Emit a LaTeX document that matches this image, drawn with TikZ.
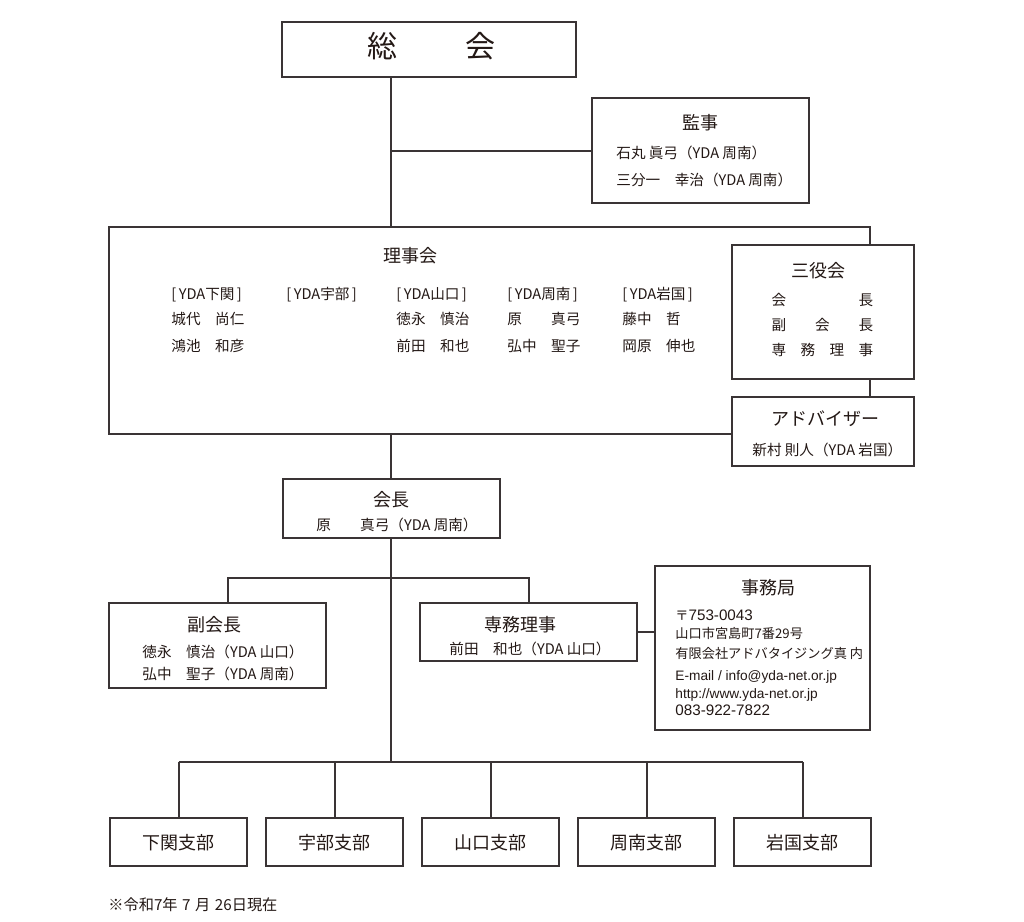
\documentclass[tikz,border=0pt]{standalone}
\usepackage{fontspec}
\setmainfont{Noto Sans CJK JP}
\newfontfamily\latf{Liberation Sans}
\definecolor{linec}{HTML}{3A3435}
\definecolor{txtc}{HTML}{231815}
\begin{document}
\begin{tikzpicture}[x=0.5pt,y=-0.5pt,
  box/.style={draw=linec, line width=1pt, inner sep=0pt, fill=white},
  conn/.style={draw=linec, line width=1pt},
  tx/.style={inner sep=0pt, text=txtc, text height=0.88em, text depth=0.12em},
  body/.style={tx, font=\fontsize{7.3}{8}\selectfont},
  small/.style={tx, font=\fontsize{6.6}{7}\selectfont},
  latl/.style={tx, font=\fontsize{6.85}{7}\latf},
  digl/.style={tx, font=\fontsize{7.6}{8}\latf},
  foot/.style={tx, font=\fontsize{7.6}{8}\selectfont},
  ttl/.style={tx, font=\fontsize{9}{10}\selectfont},
  big/.style={tx, font=\fontsize{15}{16}\selectfont},
  lw/.style={anchor=west}]
\useasboundingbox[fill=white] (0,0) rectangle (1024,922);
% boxes
\node[box, minimum width=147pt, minimum height=27.5pt] (sokai) at (429,49.5) {};
\node[box, minimum width=108.5pt, minimum height=52.5pt] (kanji) at (700.5,150.5) {};
\node[box, minimum width=91pt, minimum height=67pt] (sanyaku) at (823,312) {};
\node[box, minimum width=91pt, minimum height=34.5pt] (adviser) at (823,431.5) {};
\node[box, minimum width=108.5pt, minimum height=29.5pt] (kaicho) at (391.5,508.5) {};
\node[box, minimum width=108.5pt, minimum height=42.5pt] (fuku) at (217.5,645.5) {};
\node[box, minimum width=108.5pt, minimum height=29pt] (senmu) at (528.5,632) {};
\node[box, minimum width=107.5pt, minimum height=82pt] (jimu) at (762.5,648) {};
\foreach \n/\cx in {b1/178.5,b2/334.5,b3/490.5,b4/646.5,b5/802.5}
  \node[box, minimum width=68.5pt, minimum height=24pt] (\n) at (\cx,842) {};
% coordinates
\coordinate (trunk) at (391,0);
\coordinate (rjtl) at (109,226.5);
\coordinate (rjbl) at (109,433.5);
\coordinate (rjr) at (870,226.5);
\coordinate (rjtop) at (391,226.5);
\coordinate (rjbot) at (391,433.5);
\coordinate (fk) at (228,578);
\coordinate (bar) at (391,762);
% connectors
\draw[conn] (sokai.south -| trunk) -- (rjtop);
\draw[conn] (kanji.west -| trunk) -- (kanji.west);
\draw[conn] (adviser.west |- rjbl) -- (rjbl) -- (rjtl) -- (rjr) -- (sanyaku.north -| rjr);
\draw[conn] (sanyaku.south -| rjr) -- (adviser.north -| rjr);
\draw[conn] (rjbot) -- (kaicho.north -| trunk);
\draw[conn] (kaicho.south -| trunk) -- (bar);
\draw[conn] (fuku.north -| fk) -- (fk) -- (senmu.north |- fk) -- (senmu.north);
\draw[conn] (senmu.east) -- (jimu.west |- senmu.east);
\draw[conn] (b1.north |- bar) -- (b5.north |- bar);
\foreach \n in {b1,b2,b3,b4,b5} \draw[conn] (\n.north) -- (\n.north |- bar);
% texts: sokai
\node[big] (t_so) at (382,50) {総};
\node[big] (t_kai) at (480,50) {会};
% kanji
\node[ttl] (t_kanji) at (700,122) {監事};
\node[body,lw] (k1) at (616,151) {石丸 眞弓（YDA 周南）};
\node[body,lw] (k2) at (616,178) {三分一　幸治（YDA 周南）};
% riji
\node[ttl] (t_riji) at (410,255) {理事会};
\node[body,lw] (h1) at (171,292) {[\,YDA下関\,]};
\node[body,lw] (h2) at (286,292) {[\,YDA宇部\,]};
\node[body,lw] (h3) at (396,292) {[\,YDA山口\,]};
\node[body,lw] (h4) at (507,292) {[\,YDA周南\,]};
\node[body,lw] (h5) at (622,292) {[\,YDA岩国\,]};
\node[body,lw] (n11) at (171,317) {城代　尚仁};
\node[body,lw] (n12) at (171,344) {鴻池　和彦};
\node[body,lw] (n31) at (396,317) {徳永　慎治};
\node[body,lw] (n32) at (396,344) {前田　和也};
\node[body,lw] (n41) at (507,317) {原　　真弓};
\node[body,lw] (n42) at (507,344) {弘中　聖子};
\node[body,lw] (n51) at (622,317) {藤中　哲};
\node[body,lw] (n52) at (622,344) {岡原　伸也};
% sanyaku
\node[ttl] (t_san) at (818,270) {三役会};
\node[body] (s11) at (779,298) {会};
\node[body] (s12) at (866,298) {長};
\node[body] (s21) at (779,323) {副};
\node[body] (s22) at (822.5,323) {会};
\node[body] (s23) at (866,323) {長};
\node[body] (s31) at (779,348) {専};
\node[body] (s32) at (808,348) {務};
\node[body] (s33) at (837,348) {理};
\node[body] (s34) at (866,348) {事};
% adviser
\node[ttl] (t_adv) at (825,418) {アドバイザー};
\node[body,lw] (a1) at (752,448) {新村 則人（YDA 岩国）};
% kaicho
\node[ttl] (t_kc) at (391.5,499) {会長};
\node[body,lw] (kc1) at (316,523) {原　　真弓（YDA 周南）};
% fuku
\node[ttl] (t_fk) at (214,624) {副会長};
\node[body,lw] (f1) at (142,650) {徳永　慎治（YDA 山口）};
\node[body,lw] (f2) at (142,672) {弘中　聖子（YDA 周南）};
% senmu
\node[ttl] (t_sm) at (520,624) {専務理事};
\node[body,lw] (sm1) at (449,647) {前田　和也（YDA 山口）};
% jimu
\node[ttl] (t_jm) at (768,587) {事務局};
\node[small,lw] (j1) at (675,613) {〒\fontsize{7.6}{8}\latf 753-0043};
\node[small,lw] (j2) at (675,631) {山口市宮島町7番29号};
\node[small,lw] (j3) at (675,651) {有限会社アドバタイジング真 内};
\node[latl,lw] (j4) at (675,673) {E-mail / info@yda-net.or.jp};
\node[latl,lw] (j5) at (675,691) {http://www.yda-net.or.jp};
\node[digl,lw] (j6) at (675,708) {083-922-7822};
% branches
\node[ttl] (tb1) at (b1) {下関支部};
\node[ttl] (tb2) at (b2) {宇部支部};
\node[ttl] (tb3) at (b3) {山口支部};
\node[ttl] (tb4) at (b4) {周南支部};
\node[ttl] (tb5) at (b5) {岩国支部};
% footnote
\node[foot,lw] (foot) at (108,903) {※令和7年\hspace{0.3em}7\hspace{0.3em}月\hspace{0.3em}26日現在};
\end{tikzpicture}
\end{document}
